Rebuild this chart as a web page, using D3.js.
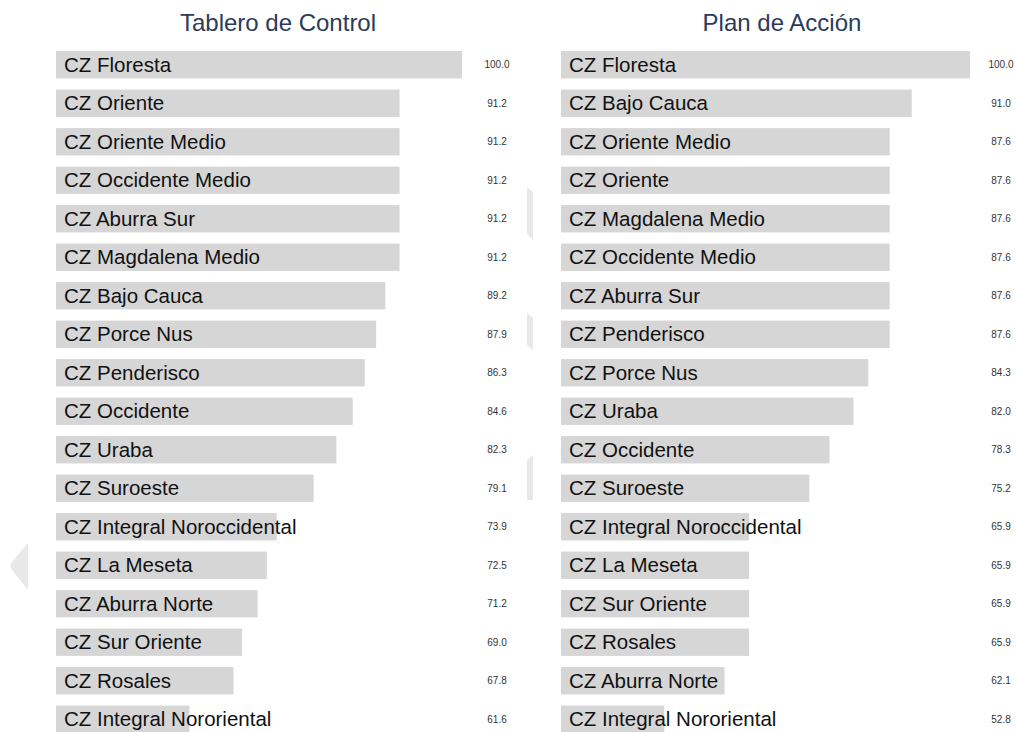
<!DOCTYPE html>
<html>
<head>
<meta charset="utf-8">
<script src="https://cdn.jsdelivr.net/npm/d3@7"></script>
<style>
  body { margin: 0; background: #fff; }
  svg { display: block; }
  svg text { font-family: Arial, Helvetica, "Liberation Sans", sans-serif; }
</style>
</head>
<body>
<div id="chart"></div>
<script>
// data
const tableroNames = ['CZ Floresta', 'CZ Oriente', 'CZ Oriente Medio', 'CZ Occidente Medio', 'CZ Aburra Sur',
  'CZ Magdalena Medio', 'CZ Bajo Cauca', 'CZ Porce Nus', 'CZ Penderisco', 'CZ Occidente', 'CZ Uraba',
  'CZ Suroeste', 'CZ Integral Noroccidental', 'CZ La Meseta', 'CZ Aburra Norte', 'CZ Sur Oriente',
  'CZ Rosales', 'CZ Integral Nororiental'];
const tableroValues = [100.0, 91.2, 91.2, 91.2, 91.2, 91.2, 89.2, 87.9, 86.3, 84.6, 82.3, 79.1, 73.9, 72.5, 71.2, 69.0, 67.8, 61.6];

const planNames = ['CZ Floresta', 'CZ Bajo Cauca', 'CZ Oriente Medio', 'CZ Oriente', 'CZ Magdalena Medio',
  'CZ Occidente Medio', 'CZ Aburra Sur', 'CZ Penderisco', 'CZ Porce Nus', 'CZ Uraba', 'CZ Occidente',
  'CZ Suroeste', 'CZ Integral Noroccidental', 'CZ La Meseta', 'CZ Sur Oriente', 'CZ Rosales',
  'CZ Aburra Norte', 'CZ Integral Nororiental'];
const planValues = [100.0, 91.0, 87.6, 87.6, 87.6, 87.6, 87.6, 87.6, 84.3, 82.0, 78.3, 75.2, 65.9, 65.9, 65.9, 65.9, 62.1, 52.8];

const width = 1016, height = 732;

const svg = d3.select('#chart')
  .append('svg')
  .attr('width', width)
  .attr('height', height);

// faint scroll/visual remnants seen in the reference
const ghost = svg.append('g').attr('fill', '#e8e8e8');
ghost.append('path').attr('d', 'M28,543 L28,590 L12,570 Q9,566 12,562 Z');
ghost.append('path').attr('d', 'M527,187 L533,192 L533,240 L527,234 Z');
ghost.append('path').attr('d', 'M527,313 L533,318 L533,350 L527,345 Z');
ghost.append('path').attr('d', 'M533,455 L527,460 L527,500 L533,500 Z');

const panels = [
  { title: 'Tablero de Control', names: tableroNames, values: tableroValues,
    x0: 56, x1: 462, min: 42.8, valueX: 497, titleX: 278 },
  { title: 'Plan de Acción', names: planNames, values: planValues,
    x0: 561, x1: 970, min: 36.85, valueX: 1001, titleX: 782 }
];

panels.forEach(p => {
  const g = svg.append('g');
  const rows = p.names.map((n, i) => ({ name: n, value: p.values[i] }));

  const xScale = d3.scaleLinear()
    .domain([p.min, 100])
    .range([p.x0, p.x1]);

  const yScale = d3.scaleBand()
    .domain(p.names)
    .range([45.5, 45.5 + 18 * 38.5])
    .paddingInner(0.29)
    .paddingOuter(0.145);

  g.append('text')
    .attr('x', p.titleX)
    .attr('y', 31)
    .attr('text-anchor', 'middle')
    .attr('fill', '#2a3b5c')
    .style('font-size', '24px')
    .text(p.title);

  g.selectAll('rect')
    .data(rows)
    .enter()
    .append('rect')
    .attr('x', xScale(p.min))
    .attr('y', d => yScale(d.name))
    .attr('width', d => xScale(d.value) - xScale(p.min))
    .attr('height', yScale.bandwidth())
    .attr('fill', '#d6d6d6');

  g.selectAll('.lbl')
    .data(rows)
    .enter()
    .append('text')
    .attr('class', 'lbl')
    .attr('x', xScale(p.min) + 8)
    .attr('y', d => yScale(d.name) + yScale.bandwidth() / 2)
    .attr('dy', '0.35em')
    .attr('fill', '#111')
    .style('font-size', '20.5px')
    .text(d => d.name);

  g.selectAll('.val')
    .data(rows)
    .enter()
    .append('text')
    .attr('class', 'val')
    .attr('x', p.valueX)
    .attr('y', d => yScale(d.name) + yScale.bandwidth() / 2)
    .attr('dy', '0.35em')
    .attr('text-anchor', 'middle')
    .attr('fill', '#333')
    .style('font-size', '10px')
    .text(d => d3.format('.1f')(d.value));
});
</script>
</body>
</html>
